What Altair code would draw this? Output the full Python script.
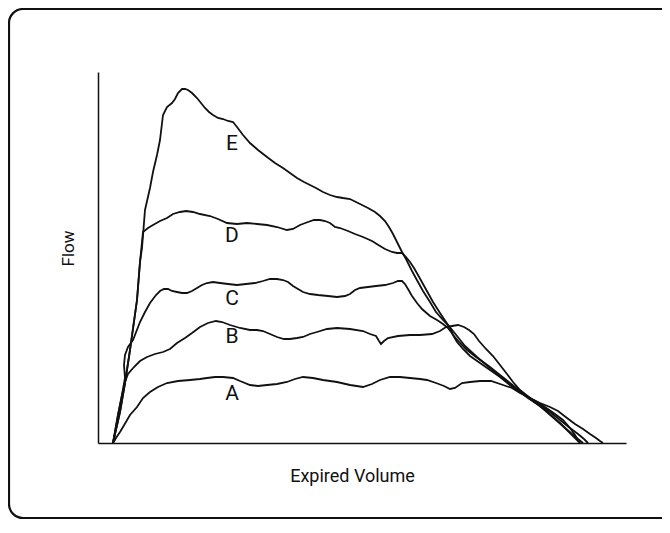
import altair as alt
import pandas as pd

# Expired volume / flow traces (arbitrary units)
a_vol = [15, 18, 22, 25, 32, 39, 45, 52, 60, 69, 80, 92, 102, 109, 117, 125, 135, 142, 152, 160, 169, 179, 189, 197, 205, 215, 225, 239, 252, 265, 274, 282, 292, 302, 312, 322, 329, 338, 346, 352, 357, 364, 372, 382, 393, 405, 414, 422, 432, 447, 457, 465, 472, 477, 480, 482]
a_flow = [0, 5, 11, 16, 28, 36, 45, 51, 56, 60, 62, 63, 64, 65, 66, 66, 65, 62, 58, 57, 58, 59, 61, 64, 66, 65, 63, 61, 58, 56, 59, 63, 66, 66, 65, 64, 63, 60, 57, 54, 55, 60, 61, 62, 62, 58, 55, 50, 45, 36, 29, 23, 15, 8, 3, 0]

b_vol = [15, 20, 24, 27, 30, 36, 42, 49, 57, 65, 72, 79, 87, 94, 102, 110, 118, 124, 132, 142, 152, 159, 165, 172, 179, 186, 192, 199, 205, 212, 219, 229, 239, 252, 265, 272, 278, 281, 283, 286, 290, 300, 312, 322, 334, 342, 348, 354, 360, 366, 371, 376, 381, 388, 395, 402, 409, 415, 422, 432, 442, 452, 460, 469, 477, 485, 492, 498, 502, 505]
b_flow = [0, 28, 48, 61, 69, 76, 82, 86, 89, 91, 94, 100, 105, 110, 116, 120, 122, 121, 118, 115, 113, 113, 112, 109, 106, 104, 104, 105, 106, 109, 111, 114, 115, 114, 112, 109, 107, 102, 99, 102, 105, 107, 108, 108, 109, 112, 116, 117, 118, 116, 113, 109, 102, 94, 87, 78, 69, 61, 53, 45, 40, 36, 32, 25, 19, 14, 9, 5, 2, 0]

c_vol = [15, 20, 24, 27, 26, 27, 30, 35, 42, 47, 52, 58, 62, 66, 70, 74, 79, 84, 89, 94, 99, 104, 109, 115, 122, 130, 139, 148, 157, 165, 172, 179, 185, 190, 195, 200, 205, 212, 220, 230, 239, 247, 252, 257, 262, 270, 278, 287, 295, 300, 304, 307, 310, 314, 319, 324, 332, 339, 345, 350, 356, 362, 369, 378, 392, 402, 412, 422, 432, 442, 452, 462, 472, 480, 486, 490]
c_flow = [0, 28, 48, 65, 78, 88, 96, 103, 121, 131, 140, 148, 152, 154, 154, 152, 151, 150, 150, 152, 155, 158, 160, 161, 160, 159, 158, 159, 160, 162, 164, 164, 163, 161, 157, 154, 151, 149, 148, 147, 146, 147, 149, 153, 155, 156, 157, 158, 160, 162, 162, 159, 154, 147, 140, 134, 127, 123, 119, 115, 107, 100, 93, 86, 76, 68, 60, 52, 45, 38, 31, 23, 15, 9, 4, 0]

d_vol = [15, 22, 27, 32, 39, 42, 45, 50, 55, 62, 69, 75, 82, 88, 95, 102, 112, 120, 129, 139, 149, 159, 169, 179, 189, 195, 202, 210, 216, 222, 227, 232, 237, 242, 250, 257, 265, 274, 282, 287, 294, 299, 304, 308, 312, 316, 320, 325, 330, 335, 342, 348, 352, 355, 359, 365, 372, 382, 392, 402, 412, 422, 432, 442, 450, 458, 466, 474, 480, 485]
d_flow = [0, 31, 60, 93, 143, 181, 211, 215, 218, 222, 225, 229, 231, 232, 231, 229, 227, 224, 220, 219, 220, 219, 218, 216, 213, 214, 218, 221, 223, 223, 222, 220, 216, 215, 212, 209, 206, 202, 197, 194, 191, 190, 190, 186, 181, 175, 168, 159, 150, 141, 130, 121, 115, 108, 101, 94, 87, 80, 73, 66, 58, 51, 44, 37, 30, 23, 16, 9, 4, 0]

e_vol = [15, 22, 27, 32, 39, 42, 44, 47, 52, 55, 59, 62, 65, 69, 74, 77, 80, 84, 87, 90, 94, 99, 103, 107, 111, 115, 120, 125, 130, 135, 139, 145, 152, 160, 169, 177, 185, 192, 199, 206, 212, 218, 225, 232, 239, 245, 252, 260, 270, 277, 282, 287, 291, 295, 299, 304, 308, 314, 320, 325, 332, 338, 345, 351, 359, 367, 379, 392, 402, 412, 422, 430, 439, 447, 455, 462, 468, 474, 478, 482]
e_flow = [0, 31, 60, 93, 143, 181, 195, 233, 255, 271, 288, 303, 328, 336, 340, 344, 350, 354, 354, 353, 350, 345, 340, 335, 331, 328, 325, 324, 322, 321, 316, 308, 300, 293, 286, 280, 275, 270, 265, 261, 258, 255, 251, 248, 246, 245, 244, 240, 235, 231, 227, 222, 216, 209, 201, 191, 184, 172, 161, 152, 141, 131, 123, 117, 107, 97, 86, 75, 67, 58, 51, 45, 39, 33, 26, 20, 14, 8, 4, 0]

curve_names = ["A", "B", "C", "D", "E"]
curve_vols = [a_vol, b_vol, c_vol, d_vol, e_vol]
curve_flows = [a_flow, b_flow, c_flow, d_flow, e_flow]

# curve labels
label_text = ["A", "B", "C", "D", "E"]
label_vol = [134, 134, 134, 134, 134]
label_flow = [43, 100, 138, 201, 293]

rows = []
for name, vols, flows in zip(curve_names, curve_vols, curve_flows):
    for i, (v, f) in enumerate(zip(vols, flows)):
        rows.append({"curve": name, "i": i, "volume": v, "flow": f})
df = pd.DataFrame(rows)
labels = pd.DataFrame({"text": label_text, "volume": label_vol, "flow": label_flow})

FONT = "Roboto, Liberation Sans, sans-serif"
INK = "#111111"
W, H = 528, 371

x_scale = alt.Scale(domain=[0, 528], nice=False, zero=False)
y_scale = alt.Scale(domain=[0, 371], nice=False, zero=False)

x_axis = alt.Axis(
    title="Expired Volume", domain=True, domainColor=INK, domainWidth=1.5,
    ticks=False, labels=False, grid=False,
    titleFont=FONT, titleFontSize=18, titleFontWeight="normal", titleColor=INK,
    titleX=254, titleY=38, titleAlign="center", titleBaseline="alphabetic",
)
y_axis = alt.Axis(
    title="Flow", domain=True, domainColor=INK, domainWidth=1.5,
    ticks=False, labels=False, grid=False,
    titleFont=FONT, titleFontSize=17, titleFontWeight="normal", titleColor=INK,
    titleX=-25, titleY=176, titleAngle=270, titleAlign="center", titleBaseline="alphabetic",
)

frame = alt.Chart(pd.DataFrame({"k": [0]})).mark_rect(
    fillOpacity=0, stroke=INK, strokeWidth=2.2, cornerRadius=14, clip=False
).encode(
    x=alt.value(-89), x2=alt.value(640), y=alt.value(-63), y2=alt.value(446)
)

lines = alt.Chart(df).mark_line(color=INK, strokeWidth=1.8, clip=False).encode(
    x=alt.X("volume:Q", scale=x_scale, axis=x_axis),
    y=alt.Y("flow:Q", scale=y_scale, axis=y_axis),
    detail="curve:N",
    order="i:Q",
)

text = alt.Chart(labels).mark_text(
    font=FONT, fontSize=21, color=INK, align="center", baseline="alphabetic"
).encode(
    x=alt.X("volume:Q", scale=x_scale),
    y=alt.Y("flow:Q", scale=y_scale),
    text="text:N",
)

chart = alt.layer(frame, lines, text).properties(
    width=W, height=H,
    autosize=alt.AutoSizeParams(type="none"),
    padding={"left": 90, "top": 64, "right": 36, "bottom": 77},
    background="white",
).configure_view(stroke=None)

chart.save("out.html", embed_options={"renderer": "svg", "actions": False})
